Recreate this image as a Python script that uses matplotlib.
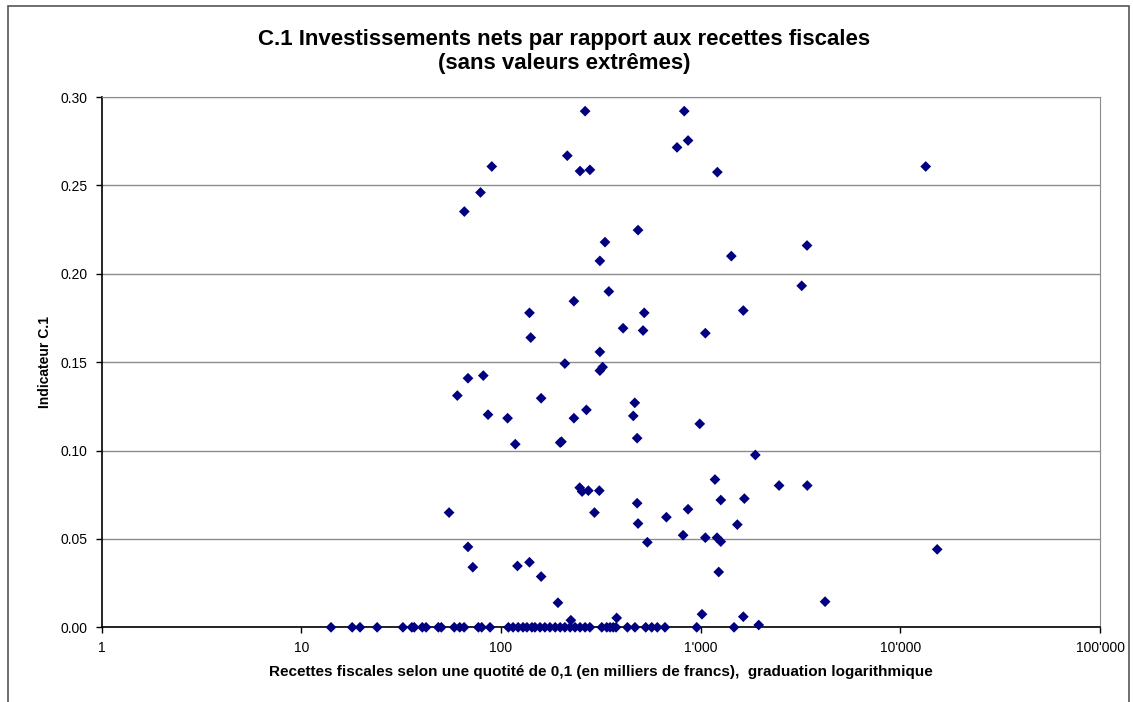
import numpy as np
import matplotlib
matplotlib.use("Agg")
import matplotlib.pyplot as plt
from matplotlib.patches import Rectangle

plt.rcParams['font.family'] = ['Liberation Sans', 'DejaVu Sans']

# communes with a positive indicator (recettes in milliers de francs, indicateur C.1)
recettes_pos = [264, 828, 865, 762, 215, 249, 279, 1213, 90, 79, 65.6, 486, 332, 313,
                1425, 347, 232, 139, 522, 1636, 409, 515, 1056, 141, 313, 13400, 3410,
                3207, 209, 313, 323, 68.4, 81.6, 60.5, 159, 86.2, 108, 232, 268, 468,
                460, 481, 990, 118, 198, 201, 1180, 1262, 1656, 248, 255, 274, 311, 294,
                55, 481, 486, 674, 865, 817, 1056, 1208, 1262, 1527, 541, 1232, 68.4,
                72.3, 121, 139, 159, 193, 224, 380, 1016, 1636, 1879, 2471, 3420, 15300,
                4200, 1954]
indicateur_pos = [0.292, 0.292, 0.2754, 0.2715, 0.2668, 0.2581, 0.2588, 0.2575, 0.2607,
                  0.246, 0.2352, 0.2247, 0.2179, 0.2073, 0.21, 0.19, 0.1845, 0.1779,
                  0.1779, 0.1792, 0.1692, 0.1679, 0.1664, 0.1639, 0.1558, 0.2607, 0.216,
                  0.1932, 0.1492, 0.1452, 0.1472, 0.1409, 0.1424, 0.1311, 0.1296, 0.1203,
                  0.1183, 0.1183, 0.123, 0.127, 0.1196, 0.107, 0.1151, 0.1036, 0.1045,
                  0.105, 0.0836, 0.072, 0.0728, 0.079, 0.0768, 0.0773, 0.0773, 0.0649,
                  0.0649, 0.0702, 0.0587, 0.0623, 0.0668, 0.0521, 0.0507, 0.0507, 0.0485,
                  0.0581, 0.0481, 0.0313, 0.0455, 0.034, 0.0347, 0.0368, 0.0287, 0.0139,
                  0.004, 0.0053, 0.0074, 0.006, 0.0975, 0.0802, 0.0802, 0.0441, 0.0145,
                  0.0013]

# communes with indicator = 0
recettes_zero = [14.1, 18.0, 19.7, 24.0, 32.3, 35.8, 36.8, 40.4, 42.2, 48.6, 50.3, 58.4,
                 62.2, 65.4, 77.1, 80.1, 88.2, 109, 115, 122, 129, 135, 143, 148, 157,
                 166, 176, 187, 198, 209, 222, 235, 249, 264, 279, 320, 339, 352, 365,
                 377, 430, 469, 531, 569, 607, 663, 956, 1470]

xticks = [1, 10, 100, 1000, 10000, 100000]
xtick_labels = ["1", "10", "100", "1'000", "10'000", "100'000"]
yticks = [0.0, 0.05, 0.10, 0.15, 0.20, 0.25, 0.30]

x = np.array(recettes_pos + recettes_zero)
y = np.array(indicateur_pos + [0.0] * len(recettes_zero))

fig = plt.figure(figsize=(11.33, 7.02), dpi=100)
ax = fig.add_axes([0.0896, 0.1064, 0.8813, 0.7554])

ax.set_xscale('log')
ax.set_xlim(1, 100000)
ax.set_ylim(0, 0.30)

ax.yaxis.grid(True, color='#8c8c8c', lw=1)
ax.set_axisbelow(True)
ax.scatter(x, y, marker='D', s=30, color='#000080', edgecolors='none', zorder=3,
           clip_on=False)

ax.set_xticks(xticks)
ax.set_xticklabels(xtick_labels)
ax.xaxis.set_minor_locator(matplotlib.ticker.NullLocator())
ax.set_yticks(yticks)
ax.set_yticklabels([f"{v:.2f}" for v in yticks])
ax.tick_params(axis='both', direction='out', length=4, width=1, labelsize=10,
               color='black', pad=6)

for side in ['top', 'right']:
    ax.spines[side].set_color('#8c8c8c')
for side in ['left', 'bottom']:
    ax.spines[side].set_color('black')
    ax.spines[side].set_linewidth(1.2)

ax.set_xlabel("Recettes fiscales selon une quotité de 0,1 (en milliers de francs),  graduation logarithmique",
              fontsize=11, fontweight='bold', labelpad=7)
ax.set_ylabel("Indicateur C.1", fontsize=10, fontweight='bold', labelpad=6)

fig.text(0.4978, 1 - 40 / 702, "C.1 Investissements nets par rapport aux recettes fiscales",
         ha='center', va='center', fontsize=16, fontweight='bold')
fig.text(0.4978, 1 - 63 / 702, "(sans valeurs extrêmes)",
         ha='center', va='center', fontsize=16, fontweight='bold')

# chart area border (bottom edge falls outside the image)
fig.add_artist(Rectangle((8 / 1133, -0.02), 1121 / 1133, 1.02 - 6 / 702,
                         transform=fig.transFigure, fill=False, edgecolor='#555555', lw=1.2))

fig.savefig("out.png", dpi=100)
